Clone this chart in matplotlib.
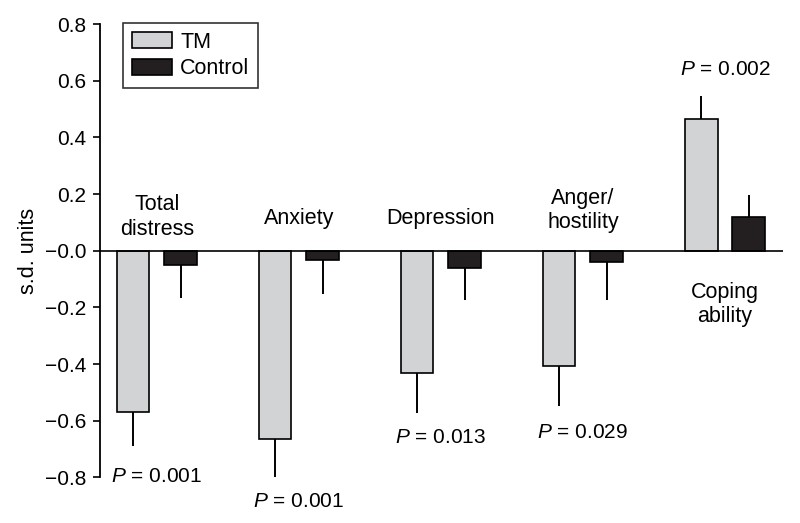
import matplotlib
matplotlib.use("Agg")
import matplotlib.pyplot as plt
import numpy as np

plt.rcParams['font.family'] = ['Liberation Sans', 'DejaVu Sans']
plt.rcParams['mathtext.fontset'] = 'custom'
plt.rcParams['mathtext.rm'] = 'Liberation Sans'
plt.rcParams['mathtext.it'] = 'Liberation Sans:italic'

# ---- data ----
categories = ["Total\ndistress", "Anxiety", "Depression", "Anger/\nhostility", "Coping\nability"]
tm_values = [-0.568, -0.664, -0.430, -0.407, 0.465]
tm_errors = [0.120, 0.133, 0.141, 0.139, 0.082]
ctrl_values = [-0.050, -0.033, -0.060, -0.041, 0.118]
ctrl_errors = [0.116, 0.121, 0.114, 0.133, 0.079]
p_labels = ["0.001", "0.001", "0.013", "0.029", "0.002"]
ytick_values = [-0.8, -0.6, -0.4, -0.2, 0.0, 0.2, 0.4, 0.6, 0.8]
ytick_labels = ["\u22120.8", "\u22120.6", "\u22120.4", "\u22120.2", "\u22120.0", "0.2", "0.4", "0.6", "0.8"]

# ---- layout (baseline of last text line, data units) ----
label_y = [0.057, 0.094, 0.094, 0.080, -0.252]
p_y = [-0.817, -0.904, -0.678, -0.659, 0.620]

gray = '#d1d3d4'
dark = '#231f20'
fs = 15.5

fig = plt.figure(figsize=(8, 5.23), dpi=100)
ax = fig.add_axes([0.125, 0.087, 0.854, 0.867])

x = np.arange(len(categories))
w = 0.229
off = 0.167
tm_v = np.array(tm_values)
ct_v = np.array(ctrl_values)
tm_e = np.array(tm_errors)
ct_e = np.array(ctrl_errors)

ax.bar(x - off, tm_v, w, color=gray, edgecolor='black', linewidth=1.2, label='TM', zorder=3)
ax.bar(x + off, ct_v, w, color=dark, edgecolor='black', linewidth=1.2, label='Control', zorder=3)

for xs, v, e in [(x - off, tm_v, tm_e), (x + off, ct_v, ct_e)]:
    lower = np.where(v < 0, e, 0)
    upper = np.where(v >= 0, e, 0)
    ax.errorbar(xs, v, yerr=[lower, upper], fmt='none', ecolor='black',
                elinewidth=1.4, capsize=0, zorder=2)

ax.axhline(0, color='black', linewidth=1.2, zorder=4)

ax.set_xlim(-0.40, 4.41)
ax.set_ylim(-0.8, 0.8)
ax.set_yticks(ytick_values)
ax.set_yticklabels(ytick_labels, fontsize=15)
ax.tick_params(axis='y', length=5, width=1.2, pad=5, colors='black')
ax.set_xticks([])
for s in ['top', 'right', 'bottom']:
    ax.spines[s].set_visible(False)
ax.spines['left'].set_linewidth(1.3)
ax.set_ylabel('s.d. units', fontsize=15.5, labelpad=4)

for i, c in enumerate(categories):
    ax.text(x[i], label_y[i], c, ha='center', va='baseline', fontsize=fs, linespacing=1.2)
for i, p in enumerate(p_labels):
    ax.text(x[i], p_y[i], r"$\mathit{P}$ = " + p, ha='center', va='baseline', fontsize=15)

leg = ax.legend(loc='upper left', bbox_to_anchor=(0.034, 1.002), borderaxespad=0,
                fontsize=fs, frameon=True, fancybox=False, handlelength=1.85,
                handleheight=0.75, handletextpad=0.4, borderpad=0.4, labelspacing=0.25)
leg.get_frame().set_edgecolor('black')
leg.get_frame().set_linewidth(1.2)

fig.savefig('out.png', dpi=100)
